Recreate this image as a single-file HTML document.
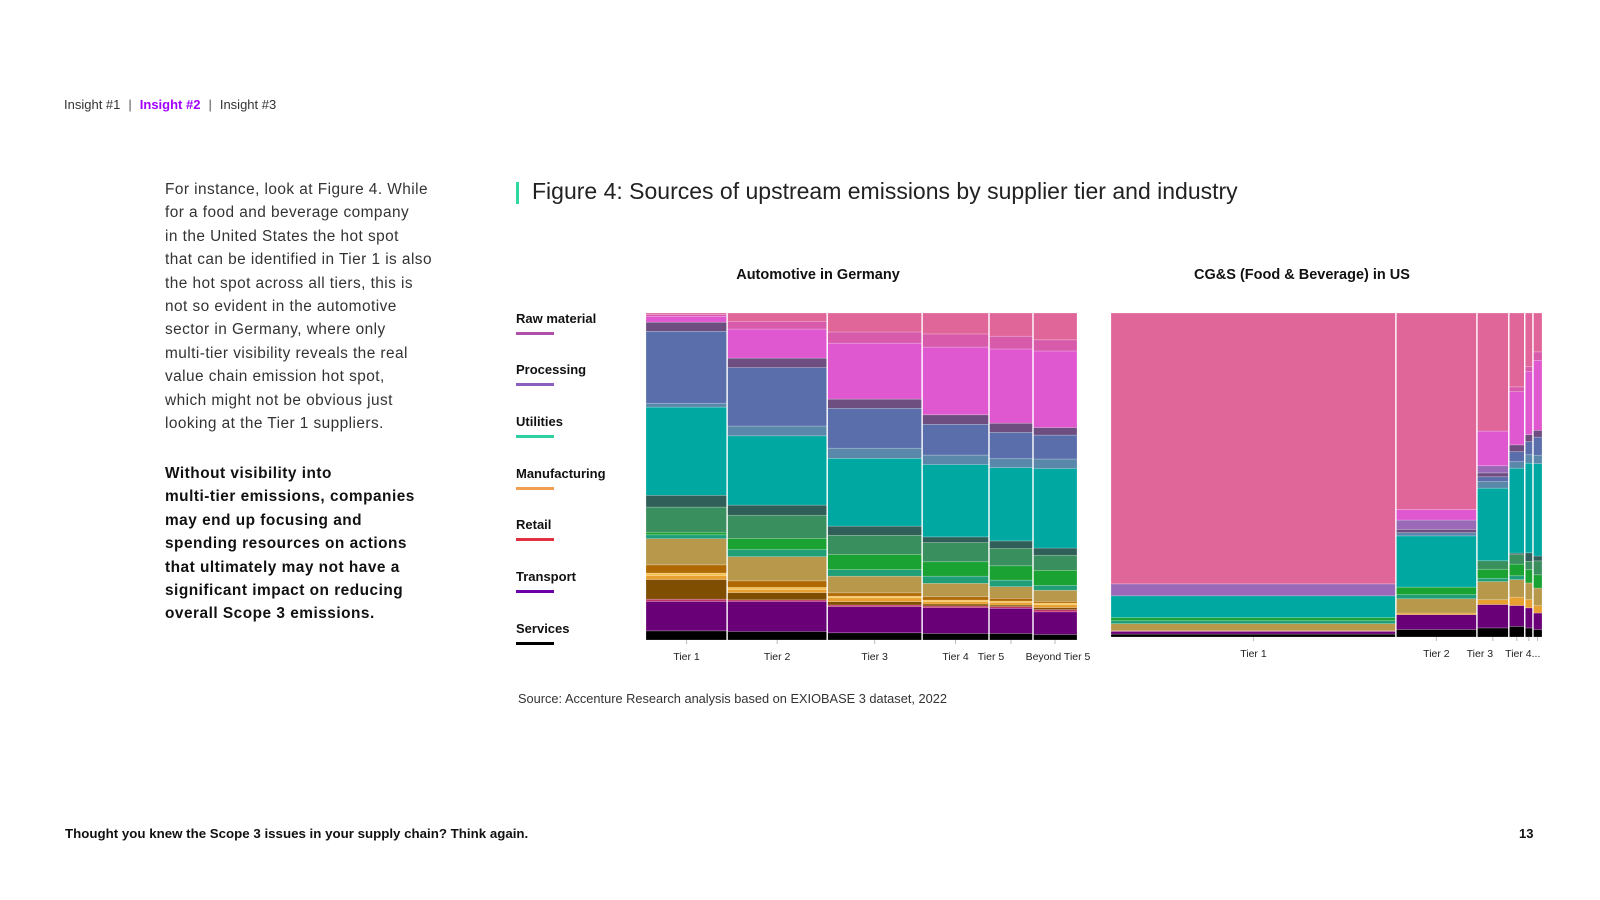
<!DOCTYPE html>
<html><head><meta charset="utf-8">
<style>
html,body{margin:0;padding:0;background:#fff;}
body{width:1600px;height:900px;position:relative;overflow:hidden;font-family:"Liberation Sans",sans-serif;color:#222;}
.abs{position:absolute;white-space:nowrap;}
.crumb{left:64px;top:97px;font-size:13px;color:#333;}
.crumb b{color:#a100ff;}
.crumb .sep{color:#555;margin:0 8px;}
.para{left:165px;top:178px;font-size:15.4px;line-height:23.4px;color:#333;letter-spacing:0.45px;}
.bold{left:165px;top:462px;font-size:15.4px;line-height:23.4px;font-weight:bold;color:#111;letter-spacing:0.5px;}
.titlebar{left:516px;top:182px;width:3px;height:22px;background:#2ed8a0;}
.title{left:532px;top:178px;font-size:23px;color:#222;}
.sub{top:267px;font-size:14.5px;font-weight:bold;color:#111;transform:translateX(-50%);}
.leg{left:516px;font-size:13px;font-weight:bold;color:#111;}
.leg i{display:block;width:38px;height:3px;margin-top:6px;}
.src{left:518px;top:691px;font-size:12.8px;color:#333;}
.foot{left:65px;top:826px;font-size:13.3px;font-weight:bold;color:#111;}
.pg{left:1519px;top:826px;font-size:13px;font-weight:bold;color:#111;}
svg{position:absolute;left:0;top:0;}
</style></head>
<body>
<div class="abs crumb"><span>Insight #1</span><span class="sep">|</span><b>Insight #2</b><span class="sep">|</span><span>Insight #3</span></div>

<div class="abs para">For instance, look at Figure 4. While<br>for a food and beverage company<br>in the United States the hot spot<br>that can be identified in Tier 1 is also<br>the hot spot across all tiers, this is<br>not so evident in the automotive<br>sector in Germany, where only<br>multi-tier visibility reveals the real<br>value chain emission hot spot,<br>which might not be obvious just<br>looking at the Tier 1 suppliers.</div>
<div class="abs bold">Without visibility into<br>multi-tier emissions, companies<br>may end up focusing and<br>spending resources on actions<br>that ultimately may not have a<br>significant impact on reducing<br>overall Scope 3 emissions.</div>

<div class="abs titlebar"></div>
<div class="abs title">Figure 4: Sources of upstream emissions by supplier tier and industry</div>
<div class="abs sub" style="left:818px">Automotive in Germany</div>
<div class="abs sub" style="left:1302px">CG&amp;S (Food &amp; Beverage) in US</div>

<div class="abs leg" style="top:311px">Raw material<i style="background:#b050a8"></i></div>
<div class="abs leg" style="top:362px">Processing<i style="background:#8a5fc0"></i></div>
<div class="abs leg" style="top:414px">Utilities<i style="background:#2ecfa0"></i></div>
<div class="abs leg" style="top:466px">Manufacturing<i style="background:#f0a050"></i></div>
<div class="abs leg" style="top:517px">Retail<i style="background:#e03040"></i></div>
<div class="abs leg" style="top:569px">Transport<i style="background:#6a00a8"></i></div>
<div class="abs leg" style="top:621px">Services<i style="background:#000"></i></div>

<svg id="chart" width="1600" height="900"></svg>

<div class="abs src">Source: Accenture Research analysis based on EXIOBASE 3 dataset, 2022</div>
<div class="abs foot">Thought you knew the Scope 3 issues in your supply chain? Think again.</div>
<div class="abs pg">13</div>

<script>
// segment keys, bottom to top
const segmentKeys = ["services","transport","retail","mfg-dark-brown","mfg-orange","mfg-yellow","mfg-dark-orange","mfg-khaki","util-teal-green","util-green","util-sea-green","util-slate","util-teal","proc-steel","proc-blue","proc-dark-purple","proc-lilac","raw-magenta","raw-pink","raw-rose"];
const segmentColors = ["#000000","#6a0078","#c0306a","#7f4e00","#e8a030","#f5c04a","#b06800","#b8984a","#1f9e78","#1aa332","#3a8f5e","#2f5f58","#00a8a2","#5a88aa","#5a6eac","#6e4e80","#9a6ab8","#e058d0","#d85aaa","#e0669a"];

const autoTiers = ["Tier 1","Tier 2","Tier 3","Tier 4","Tier 5","Beyond Tier 5"];
const autoTierShares = [18.8,23.2,22,15.5,10.2,10.2];
const autoT1 = [2.8,9,0.7,6,1.2,0.8,2.5,8,1.2,0.8,7.7,3.6,27,1.2,22,2.8,0,1.8,0.6,0.4];
const autoT2 = [2.6,9.2,0.5,2.2,1,0.6,2,7.4,2.2,3.4,7.1,3.1,21.2,3,17.9,2.9,0,8.9,2.3,2.6];
const autoT3 = [2.2,8,0.5,1,1.2,0.5,1,5.1,2,4.6,5.9,2.8,20.7,3.1,12.2,2.8,0,17.1,3.4,5.8];
const autoT4 = [2,7.9,0.5,0.6,0.7,0.5,1,4.1,2.2,4.4,5.9,1.7,22.1,2.9,9.4,2.9,0,20.7,4,6.4];
const autoT5 = [2,7.7,0.5,0.5,0.8,0.4,0.8,3.6,2,4.4,5.3,2.3,22.4,2.8,8,2.8,0,22.7,3.9,7.1];
const autoB5 = [1.7,6.9,0.7,0.6,0.9,0.5,0.5,3.4,1.5,4.6,4.6,2.2,24.3,2.9,7.3,2.3,0,23.4,3.4,8.2];

const cgsTiers = ["Tier 1","Tier 2","Tier 3","Tier 4...","",""];
const cgsTierShares = [66.1,18.8,7.4,3.7,1.9,2.1];
const cgsT1 = [0.9,0.8,0.2,0,0,0,0,2.2,1,0.9,0,0,6.7,0,0,0,3.7,0,0,83.6];
const cgsT2 = [2.3,4.6,0,0,0.5,0,0,4.4,1.3,2.3,0,0,15.8,1,0,1,2.9,3.3,0,60.6];
const cgsT3 = [2.8,7.2,0,0,1.5,0,0,5.6,1,2.8,2.6,0,22.4,2,1.5,1.2,2.2,10.7,0,36.4];
const cgsT4 = [3.3,6.4,0,0,2.6,0,0,5.4,1.2,3.6,2.9,0.5,26.2,2,3.1,2.1,0,16.4,1.5,22.8];
const cgsT5 = [2.8,6.2,0,0,2.6,0,0,5.1,0,4.1,2.6,2.6,27.7,2.6,4.1,2.1,0,19.5,1.5,16.6];
const cgsT6 = [2.3,5.1,0,0,2.3,0,0,5.4,0,4.1,4.3,1.5,28.5,2.6,5.6,2.1,0,21.6,2.6,12];

const NS = "http://www.w3.org/2000/svg";
const svg = document.getElementById("chart");

function drawMosaic(prefix, box, tiers, shares, cols, labelDx) {
  const g = document.createElementNS(NS, "g");
  
  
  svg.appendChild(g);
  const totalShare = shares.reduce((a, b) => a + b, 0);
  const xScale = v => box.x + v / totalShare * box.w;
  let acc = 0;
  tiers.forEach((tier, i) => {
    const x0 = xScale(acc), x1 = xScale(acc + shares[i]);
    acc += shares[i];
    const vals = cols[i];
    const sum = vals.reduce((a, b) => a + b, 0);
    const yScale = v => box.y + box.h - v / sum * box.h;
    let cum = 0;
    vals.forEach((v, k) => {
      if (v <= 0) return;
      const yb = yScale(cum), yt = yScale(cum + v);
      cum += v;
      const r = document.createElementNS(NS, "rect");
      r.setAttribute("x", x0); r.setAttribute("width", x1 - x0);
      r.setAttribute("y", yt); r.setAttribute("height", yb - yt);
      r.setAttribute("fill", segmentColors[k]);
      r.setAttribute("stroke", "rgba(255,255,255,0.35)");
      r.setAttribute("stroke-width", "0.6");
      
      
      g.appendChild(r);
    });
    if (i > 0) {
      const l = document.createElementNS(NS, "line");
      l.setAttribute("x1", x0); l.setAttribute("x2", x0);
      l.setAttribute("y1", box.y); l.setAttribute("y2", box.y + box.h);
      l.setAttribute("stroke", "#fff"); l.setAttribute("stroke-width", "1.4");
      
      
      g.appendChild(l);
    }
    const cx = (x0 + x1) / 2;
    const t = document.createElementNS(NS, "line");
    t.setAttribute("x1", cx); t.setAttribute("x2", cx);
    t.setAttribute("y1", box.y + box.h); t.setAttribute("y2", box.y + box.h + 4);
    t.setAttribute("stroke", "#bbb"); t.setAttribute("stroke-width", "1");
    
    
    g.appendChild(t);
    if (tier) {
      const tx = document.createElementNS(NS, "text");
      tx.setAttribute("x", cx + (labelDx[i] || 0)); tx.setAttribute("y", box.y + box.h + 20);
      tx.setAttribute("text-anchor", "middle");
      tx.setAttribute("font-family", "Liberation Sans, sans-serif");
      tx.setAttribute("font-size", "10.5");
      tx.setAttribute("fill", "#222");
      tx.textContent = tier;
      
      
      g.appendChild(tx);
    }
  });
}

drawMosaic("automotive", {x:646, y:313, w:431, h:327}, autoTiers, autoTierShares, [autoT1,autoT2,autoT3,autoT4,autoT5,autoB5], [0,0,0,0,-20,3]);
drawMosaic("cgs", {x:1111, y:313, w:431, h:324}, cgsTiers, cgsTierShares, [cgsT1,cgsT2,cgsT3,cgsT4,cgsT5,cgsT6], [0,0,-13,6,0,0]);
</script>
</body></html>
